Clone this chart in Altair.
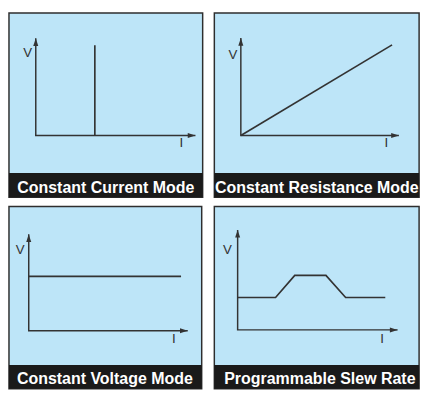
import altair as alt
import pandas as pd

# ---- data (normalised I / V, axis origin = 0, arrow tip = 1) ----
captions = ["Constant Current Mode", "Constant Resistance Mode",
            "Constant Voltage Mode", "Programmable Slew Rate"]

cc_current = [0.37, 0.37]
cc_voltage = [0.0, 0.93]

cr_current = [0.0, 0.957]
cr_voltage = [0.0, 0.93]

cv_current = [0.0, 0.958]
cv_voltage = [0.564, 0.564]

slew_current = [0.0, 0.237, 0.357, 0.552, 0.675, 0.923]
slew_voltage = [0.324, 0.324, 0.545, 0.545, 0.324, 0.324]

axis_current = [0, 0, 1]
axis_voltage = [1, 0, 0]

BG = "#BDE5F8"
INK = "#333333"
BAR = "#1a1a1a"
FONT = "Liberation Sans"

UP = "M0,0L0.65,2L-0.65,2Z"
RIGHT = "M0,0L-2,-0.65L-2,0.65Z"

# layout: measured in the reference picture, fitted into the page area
REF_X0, REF_X1 = 4.5, 428.0
REF_Y0, REF_Y1 = 4.0, 404.0
OUT_W, OUT_H = 417.0, 382.0
SX = OUT_W / (REF_X1 - REF_X0)
SY = OUT_H / (REF_Y1 - REF_Y0)
S = (SX + SY) / 2


def panel(cur, volt, caption, box, origin, xtip, ytip, vpos, ipos, cap_top, cap_x, cap_base):
    left, top, right, bottom = box
    W = (right - left) * SX
    H = (bottom - top) * SY
    lx = lambda v: (v - left) * SX
    ly = lambda v: (v - top) * SY

    xs = alt.Scale(domain=[0, 1], range=[lx(origin[0]), lx(xtip)], nice=False, zero=False)
    ys = alt.Scale(domain=[0, 1], range=[ly(origin[1]), ly(ytip)], nice=False, zero=False)
    X = lambda: alt.X("I:Q", scale=xs, axis=None)
    Y = lambda: alt.Y("V:Q", scale=ys, axis=None)

    axes_df = pd.DataFrame({"I": axis_current, "V": axis_voltage, "k": [0, 1, 2]})
    curve_df = pd.DataFrame({"I": cur, "V": volt, "k": list(range(len(cur)))})

    axes = alt.Chart(axes_df).mark_line(color=INK, strokeWidth=1.5).encode(
        x=X(), y=Y(), order="k:Q")
    up = alt.Chart(pd.DataFrame({"I": [0], "V": [1]})).mark_point(
        shape=UP, size=62, filled=True, color=INK, opacity=1).encode(x=X(), y=Y())
    right_arrow = alt.Chart(pd.DataFrame({"I": [1], "V": [0]})).mark_point(
        shape=RIGHT, size=62, filled=True, color=INK, opacity=1).encode(x=X(), y=Y())
    curve = alt.Chart(curve_df).mark_line(color=INK, strokeWidth=1.7).encode(
        x=X(), y=Y(), order="k:Q")

    vlab = alt.Chart(pd.DataFrame({"t": ["V"]})).mark_text(
        font=FONT, fontSize=14 * S, color=INK, baseline="middle", align="center").encode(
        x=alt.value(lx(vpos[0])), y=alt.value(ly(vpos[1])), text="t:N")
    ilab = alt.Chart(pd.DataFrame({"t": ["I"]})).mark_text(
        font=FONT, fontSize=14 * S, color=INK, baseline="middle", align="center").encode(
        x=alt.value(lx(ipos[0])), y=alt.value(ly(ipos[1])), text="t:N")

    cap_df = pd.DataFrame({"t": [caption]})
    bar = alt.Chart(cap_df).mark_rect(color=BAR).encode(
        x=alt.value(0), x2=alt.value(W), y=alt.value(ly(cap_top)), y2=alt.value(H))
    cap = alt.Chart(cap_df).mark_text(font=FONT, fontWeight="bold", fontSize=16.8 * S,
                                      color="white", align="center",
                                      baseline="alphabetic").encode(
        x=alt.value(lx(cap_x)), y=alt.value(ly(cap_base)), text="t:N")

    return alt.layer(axes, up, right_arrow, curve, vlab, ilab, bar, cap).properties(
        width=W, height=H)


pA = panel(cc_current, cc_voltage, captions[0], (4.5, 4, 205.5, 201),
           (32.3, 135), 198, 31, (24, 46.5), (183.5, 142.7), 175, 105, 196)
pB = panel(cr_current, cr_voltage, captions[1], (215.5, 4, 428, 201),
           (243, 135), 407, 30.7, (234.7, 49.3), (394, 143), 175, 321.9, 196)
pC = panel(cv_current, cv_voltage, captions[2], (4.5, 209, 204.5, 404),
           (25, 342), 190, 238.7, (16, 255.7), (175.7, 350.7), 378.5, 104, 398.7)
pD = panel(slew_current, slew_voltage, captions[3], (215.5, 209, 428, 404),
           (239.7, 341), 405.7, 234, (229, 255.7), (389.7, 350.7), 378.5, 325, 398.7)

chart = alt.vconcat(
    alt.hconcat(pA, pB, spacing=(215.5 - 205.5) * SX),
    alt.hconcat(pC, pD, spacing=(215.5 - 204.5) * SX),
    spacing=(209 - 201) * SY,
).properties(padding=0, background="white").configure_view(
    fill=BG, stroke="#2e2e2e", strokeWidth=1.5
)

chart.save("out.html", embed_options={"renderer": "svg", "actions": False})
